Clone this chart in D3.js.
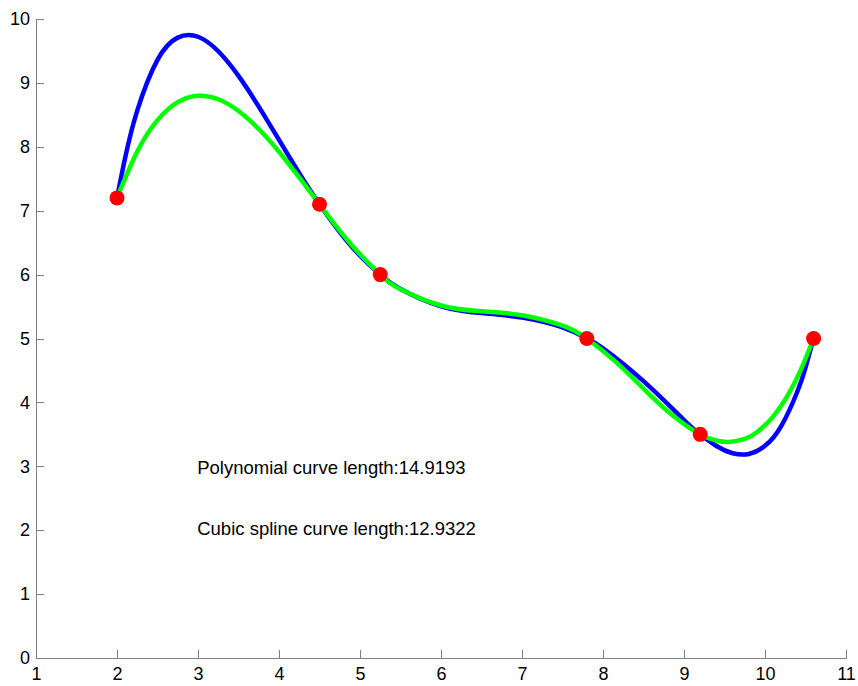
<!DOCTYPE html>
<html>
<head>
<meta charset="utf-8">
<script src="https://cdn.jsdelivr.net/npm/d3@7"></script>
<style>
    body { margin: 0; background: #fff; }
    text { font-family: "Liberation Sans", Arial, sans-serif; }
</style>
</head>
<body>
<div id="chart"></div>
<script>
// data points
const pointX = [2, 4.5, 5.25, 7.8, 9.2, 10.6];
const pointY = [7.2, 7.1, 6, 5, 3.5, 5];

// polynomial curve
const polyX = [2, 2.1, 2.25, 2.5, 2.75, 3, 3.25, 3.5, 3.75, 4, 4.25, 4.5, 4.75, 5, 5.25, 5.5, 6, 6.5, 7, 7.5, 7.8, 8, 8.5, 9, 9.2, 9.4, 9.6, 9.8, 10, 10.2, 10.4, 10.5, 10.6];
const polyY = [7.2, 7.825, 8.567, 9.361, 9.709, 9.722, 9.495, 9.109, 8.629, 8.108, 7.588, 7.1, 6.665, 6.297, 6.0, 5.774, 5.505, 5.398, 5.328, 5.173, 5.0, 4.846, 4.332, 3.724, 3.5, 3.318, 3.205, 3.193, 3.32, 3.629, 4.171, 4.545, 5.0];

// cubic spline curve
const splineX = [2, 2.25, 2.5, 2.75, 3, 3.25, 3.5, 3.75, 4, 4.25, 4.5, 4.875, 5.25, 5.5, 6, 6.5, 7, 7.5, 7.8, 8.15, 8.5, 8.85, 9.2, 9.4, 9.55, 9.75, 9.9, 10.1, 10.3, 10.45, 10.6];
const splineY = [7.2, 7.927, 8.418, 8.699, 8.799, 8.744, 8.561, 8.278, 7.922, 7.520, 7.1, 6.494, 6.0, 5.770, 5.516, 5.425, 5.364, 5.201, 5.0, 4.642, 4.216, 3.807, 3.5, 3.403, 3.381, 3.429, 3.534, 3.777, 4.153, 4.531, 5.0];

const xTicks = [1, 2, 3, 4, 5, 6, 7, 8, 9, 10, 11];
const yTicks = [0, 1, 2, 3, 4, 5, 6, 7, 8, 9, 10];

const labels = [
    {text: 'Polynomial curve length:14.9193', x: 2.99, y: 2.88},
    {text: 'Cubic spline curve length:12.9322', x: 2.99, y: 1.92}
];

let width = 858,
    height = 686;

let xScale = d3.scaleLinear().domain([1, 11]).range([36, 846]);
let yScale = d3.scaleLinear().domain([0, 10]).range([658, 19]);

let svg = d3.select('#chart')
    .append('svg')
    .attr('width', width)
    .attr('height', height);

// axes, ticks pointing inward like matlab
let xAxis = svg.append('g')
    .attr('transform', 'translate(0,' + yScale(0) + ')')
    .call(d3.axisBottom(xScale).tickValues(xTicks).tickSizeInner(-8).tickSizeOuter(0).tickPadding(9));

let yAxis = svg.append('g')
    .attr('transform', 'translate(' + xScale(1) + ',0)')
    .call(d3.axisLeft(yScale).tickValues(yTicks).tickSizeInner(-8).tickSizeOuter(0).tickPadding(6));

[xAxis, yAxis].forEach(ax => {
    ax.select('.domain').attr('stroke', '#808080').attr('shape-rendering', 'crispEdges');
    ax.selectAll('.tick line').attr('stroke', '#808080').attr('shape-rendering', 'crispEdges');
    ax.selectAll('.tick text')
        .attr('fill', '#000')
        .style('font-size', '18px')
        .style('font-family', '"Liberation Sans", Arial, sans-serif');
});

let line = d3.line()
    .x(d => xScale(d[0]))
    .y(d => yScale(d[1]))
    .curve(d3.curveNatural);

svg.append('path')
    .datum(polyX.map((x, i) => [x, polyY[i]]))
    .attr('d', line)
    .attr('fill', 'none')
    .attr('stroke', '#0000ff')
    .attr('stroke-width', 4.5);

svg.append('path')
    .datum(splineX.map((x, i) => [x, splineY[i]]))
    .attr('d', line)
    .attr('fill', 'none')
    .attr('stroke', '#00ff00')
    .attr('stroke-width', 4.5);

svg.append('g')
    .selectAll('circle')
    .data(pointX.map((x, i) => [x, pointY[i]]))
    .enter().append('circle')
    .attr('cx', d => xScale(d[0]))
    .attr('cy', d => yScale(d[1]))
    .attr('r', 7.5)
    .attr('fill', '#ff0000');

svg.append('g')
    .selectAll('text')
    .data(labels)
    .enter().append('text')
    .attr('x', d => xScale(d.x))
    .attr('y', d => yScale(d.y))
    .style('font-size', '18.5px')
    .attr('fill', '#000')
    .text(d => d.text);
</script>
</body>
</html>
